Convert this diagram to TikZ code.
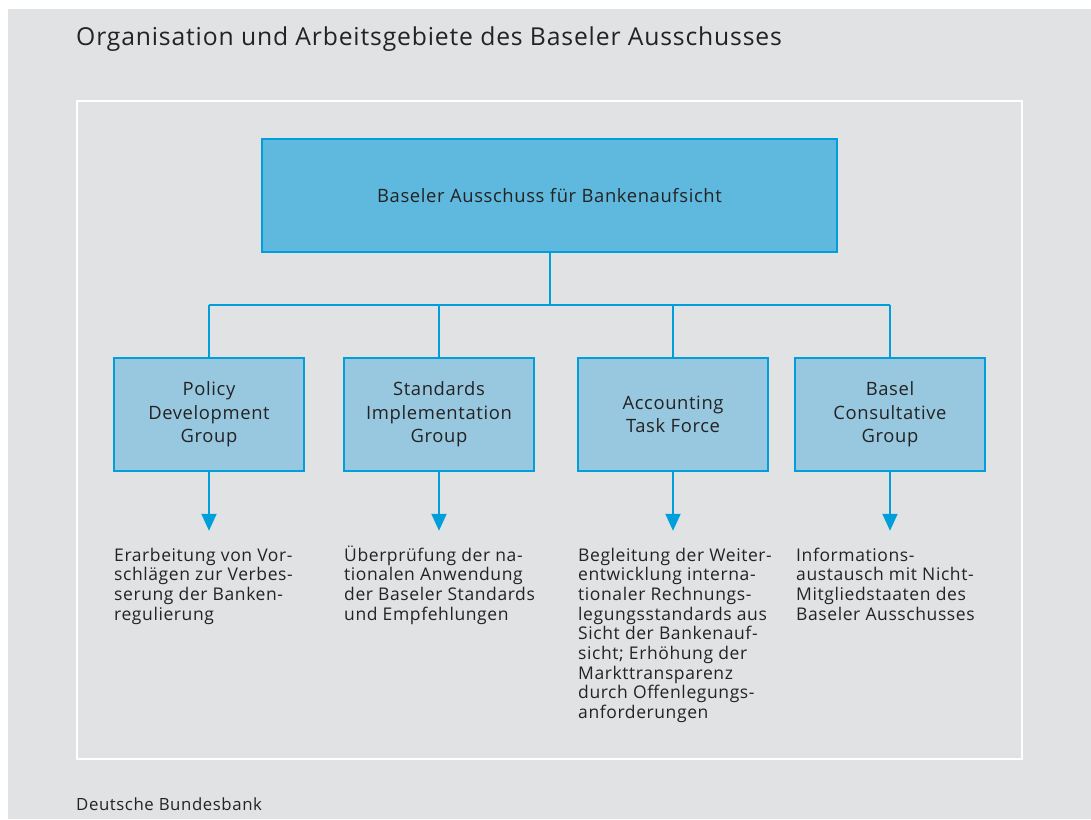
\documentclass[tikz,border=0pt]{standalone}
\usepackage{fontspec}
\setmainfont{Open Sans}[LetterSpace=3.4]
\usepackage{tikz}
\usetikzlibrary{arrows.meta}
\definecolor{PaperColor}{RGB}{225,226,228}
\definecolor{BankColor}{RGB}{0,158,219}
\definecolor{BoardColor}{RGB}{95,184,221}
\definecolor{GroupColor}{RGB}{152,200,224}
\definecolor{InkColor}{RGB}{35,35,35}
\tikzset{
  committee/.style={draw=BankColor, fill=BoardColor, line width=1.5pt, minimum width=575pt, minimum height=113pt, text=InkColor, font=\fontsize{18.4}{23.5}\selectfont},
  group/.style={draw=BankColor, fill=GroupColor, line width=1.5pt, minimum width=190pt, minimum height=113pt, align=center, text=InkColor, font=\fontsize{18.4}{23.5}\selectfont},
  duty/.style={anchor=base west, inner sep=0pt, align=left, text=InkColor, font=\fontsize{17.5}{19.7}\selectfont},
  link/.style={draw=BankColor, line width=2pt},
}

\begin{document}
\begin{tikzpicture}[x=1pt,y=-1pt]
\useasboundingbox (0,0) rectangle (1091,819);
\fill[PaperColor] (8,9) rectangle (1091,819);
\draw[white, line width=2pt] (77,101) rectangle (1022,759);

%% title and source
\node[anchor=base west, inner sep=0pt, text=InkColor, font=\fontsize{24.7}{29}\selectfont] (title) at (76,45) {Organisation und Arbeitsgebiete des Baseler Ausschusses};
\node[anchor=base west, inner sep=0pt, text=InkColor, font=\fontsize{16.8}{19.7}\selectfont] (source) at (76,810) {Deutsche Bundesbank};

%% boxes
\node[committee] (bcbs) at (549.5,195.5) {Baseler Ausschuss für Bankenaufsicht};
\node[group] (pdg) at (209,414.5) {Policy\\Development\\Group};
\node[group] (sig) at (439,414.5) {Standards\\Implementation\\Group};
\node[group] (atf) at (673,414.5) {Accounting\\Task Force};
\node[group] (bcg) at (890,414.5) {Basel\\Consultative\\Group};

%% tasks (base = last line)
\node[duty] (pdgduty) at (114,620.1) {Erarbeitung von Vor-\\schlägen zur Verbes-\\serung der Banken-\\regulierung};
\node[duty] (sigduty) at (344,620.1) {Überprüfung der na-\\tionalen Anwendung\\der Baseler Standards\\und Empfehlungen};
\node[duty] (atfduty) at (578,718.6) {Begleitung der Weiter-\\entwicklung interna-\\tionaler Rechnungs-\\legungsstandards aus\\Sicht der Bankenauf-\\sicht; Erhöhung der\\Markttransparenz\\durch Offenlegungs-\\anforderungen};
\node[duty] (bcgduty) at (796,620.1) {Informations-\\austausch mit Nicht-\\Mitgliedstaaten des\\Baseler Ausschusses};

%% connectors
\coordinate (bus) at (549.5,305);
\draw[link] (bcbs.south) -- (bus);
\draw[link] (pdg.north |- bus) -- (bcg.north |- bus);
\foreach \g in {pdg,sig,atf,bcg}{
\coordinate (\g-tip) at ([yshift=-59pt]\g.south);
\draw[link] (\g.north) -- (\g.north |- bus);
\draw[link, -{Triangle[width=15pt,length=17pt]}] (\g.south) -- (\g-tip);
}
\end{tikzpicture}
\end{document}
